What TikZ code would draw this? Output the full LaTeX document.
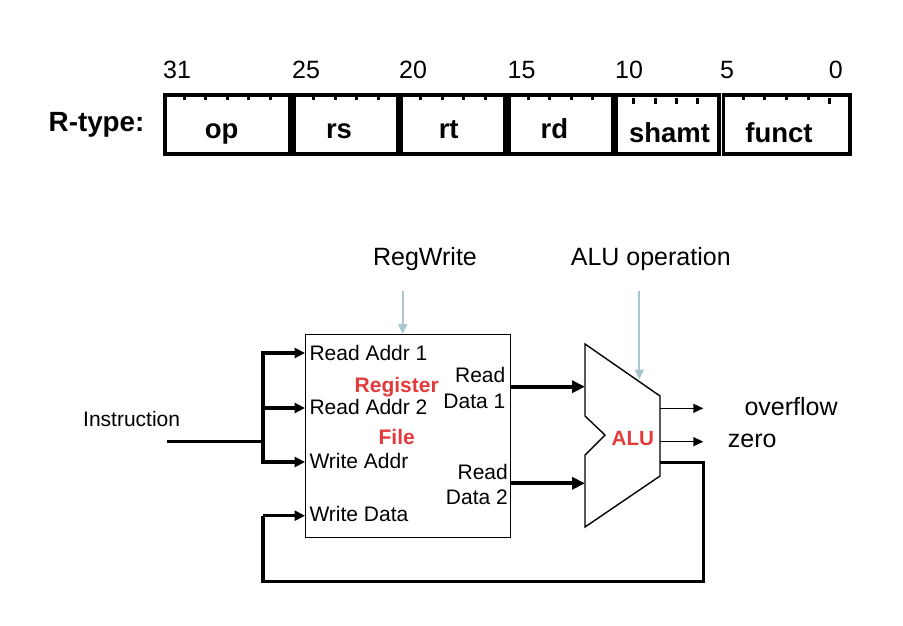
\documentclass[tikz,border=0pt]{standalone}
\usepackage{fontspec}
\setmainfont{Liberation Sans}
\usetikzlibrary{arrows.meta,calc}
\definecolor{hired}{HTML}{E23B3B}
\definecolor{ctrlblue}{HTML}{A9C6CF}
\begin{document}
\begin{tikzpicture}[x=1pt,y=-1pt,
  fieldbox/.style={draw,line width=3.5pt,minimum height=59pt,inner sep=0pt,anchor=north west},
  tickA/.style={line width=3pt},
  numtxt/.style={font=\fontsize{25}{30}\selectfont,inner sep=0pt},
  fldtxt/.style={font=\fontsize{27.5}{32}\selectfont\bfseries,inner sep=0pt,anchor=base},
  bigtxt/.style={font=\fontsize{25}{30}\selectfont,inner sep=0pt},
  smalltxt/.style={font=\fontsize{21}{25}\selectfont,inner sep=0pt},
  redtxt/.style={font=\fontsize{21}{25}\selectfont\bfseries,text=hired,inner sep=0pt,anchor=base},
  bus/.style={line width=3.4pt},
  busarrow/.style={line width=3.4pt,-{Triangle[length=10.5pt,width=10pt]}},
  dataarrow/.style={line width=4.2pt,-{Triangle[length=13pt,width=12pt]}},
  thinarrow/.style={line width=1.4pt,-{Triangle[length=10pt,width=9pt]}},
  ctrl/.style={draw=ctrlblue,line width=2pt,-{Triangle[length=10pt,width=9pt]}},
  unit/.style={draw,line width=1.4pt,fill=white}
]
\useasboundingbox[fill=white] (0,0) rectangle (903,625);

% ---------- R-type format ----------
\node[font=\fontsize{27.8}{32}\selectfont\bfseries,inner sep=0pt,anchor=base west] (rtype) at (48.5,131.5) {R-type:};

\node[fieldbox,minimum width=125pt] (fop) at (163,93) {};
\node[fieldbox,minimum width=104pt] (frs) at (292,93) {};
\node[fieldbox,minimum width=103.5pt] (frt) at (399.5,93) {};
\node[fieldbox,minimum width=103.5pt] (frd) at (507,93) {};
\node[fieldbox,minimum width=103pt] (fsh) at (614,93) {};
\node[fieldbox,minimum width=126.5pt] (ffn) at (721.5,93) {};

% ticks (attached)
\foreach \i in {1,...,5} \draw[tickA] ($(fop.north west)!\i/6!(fop.north east)$) -- ++(0,7);
\foreach \i in {1,...,4} \draw[tickA] ($(frs.north west)!\i/5!(frs.north east)$) -- ++(0,7);
\foreach \i in {1,...,4} \draw[tickA] ($(frt.north west)!\i/5!(frt.north east)$) -- ++(0,7);
\foreach \i in {1,...,4} \draw[tickA] ($(frd.north west)!\i/5!(frd.north east)$) -- ++(0,7);
\foreach \i in {1,...,4} \draw[tickA] ($(ffn.north west)!\i/6!(ffn.north east)$) -- ++(0,7);
% ticks (detached)
\foreach \i in {1,...,4} \draw[tickA] ($(fsh.north west)!\i/5!(fsh.north east)+(-1.5,5)$) -- ++(0,6);
\draw[tickA] ($(ffn.north west)!5/6!(ffn.north east)+(0,5)$) -- ++(0,6);

% bit numbers
\node[numtxt,anchor=base west] (b31) at (163,78) {31};
\node[numtxt,anchor=base west] (b25) at (292,78) {25};
\node[numtxt,anchor=base west] (b20) at (399,78) {20};
\node[numtxt,anchor=base west] (b15) at (507.5,78) {15};
\node[numtxt,anchor=base west] (b10) at (615,78) {10};
\node[numtxt,anchor=base west] (b5) at (720,78) {5};
\node[numtxt,anchor=base east] (b0) at (843,78) {0};

% field names
\node[fldtxt] (lop) at (221.7,138) {op};
\node[fldtxt] (lrs) at (339,138) {rs};
\node[fldtxt] (lrt) at (448.7,138) {rt};
\node[fldtxt] (lrd) at (554.3,138) {rd};
\node[fldtxt] (lsh) at (669.5,142) {shamt};
\node[fldtxt] (lfn) at (779,142) {funct};

% ---------- datapath ----------
\node[bigtxt,anchor=base] (regwrite) at (425,265) {RegWrite};
\node[bigtxt,anchor=base] (aluop) at (650.8,265) {ALU operation};

% register file
\node[unit,minimum width=205pt,minimum height=203pt,anchor=north west,inner sep=0pt] (rf) at (305,334) {};
\node[smalltxt,anchor=base west] (pra1) at (309.3,360.7) {Read Addr 1};
\node[smalltxt,anchor=base west] (pra2) at (309.3,414) {Read Addr 2};
\node[smalltxt,anchor=base west] (pwa) at (309.3,468) {Write Addr};
\node[smalltxt,anchor=base west] (pwd) at (309.3,521.7) {Write Data};
\node[redtxt] (lreg) at (396.7,392.7) {Register};
\node[redtxt] (lfile) at (396.7,444) {File};
\node[smalltxt,anchor=base east] (rd1a) at (505.5,382.3) {Read};
\node[smalltxt,anchor=base east] (rd1b) at (505.5,408.3) {Data 1};
\node[smalltxt,anchor=base east] (rd2a) at (508,479) {Read};
\node[smalltxt,anchor=base east] (rd2b) at (508,504) {Data 2};

% ALU
\coordinate (a1) at (585,344);
\coordinate (a2) at (660,396);
\coordinate (a3) at (660,476);
\coordinate (a4) at (585,527);
\coordinate (a5) at (585,455);
\coordinate (a6) at (605,435);
\coordinate (a7) at (585,416);
\draw[unit] (a1) -- (a2) -- (a3) -- (a4) -- (a5) -- (a6) -- (a7) -- cycle;
\node[font=\fontsize{20.6}{25}\selectfont\bfseries,text=hired,inner sep=0pt,anchor=base] (alu) at (632.8,445.7) {ALU};

% control inputs
\coordinate (rwtop) at (402.7,291);
\coordinate (aotop) at (639.3,291);
\coordinate (aoend) at (639.3,379.5);
\draw[ctrl] (rwtop) -- (rwtop |- rf.north);
\draw[ctrl] (aotop) -- (aoend);

% instruction bus
\node[smalltxt,anchor=base west] (instr) at (83,426) {Instruction};
\coordinate (iin) at (167,441.7);
\coordinate (bj) at (263,441.7);
\coordinate (btop) at (263,353);
\coordinate (bbot) at (263,462);
\draw[bus] (iin) -- (bj);
\draw[bus,line cap=rect] (btop) -- (bbot);
\draw[busarrow] (btop) -- (rf.west |- btop);
\draw[busarrow] (263,408) -- (rf.west |- 263,408);
\draw[busarrow] (bbot) -- (rf.west |- bbot);

% read data to ALU
\coordinate (rd1o) at (rf.east |- 0,386.7);
\coordinate (rd2o) at (rf.east |- 0,483.3);
\draw[dataarrow] (rd1o) -- (a1 |- rd1o);
\draw[dataarrow] (rd2o) -- (a1 |- rd2o);

% ALU outputs
\coordinate (ovo) at (660,408.3);
\coordinate (zeo) at (660,441.7);
\coordinate (ovend) at (703.3,408.3);
\coordinate (zeend) at (703.3,441.7);
\draw[thinarrow] (ovo) -- (ovend);
\draw[thinarrow] (zeo) -- (zeend);
\node[bigtxt,anchor=base west] (lov) at (744.3,415.3) {overflow};
\node[bigtxt,anchor=base west] (lze) at (727.7,447) {zero};

% feedback to write data
\coordinate (res) at (660,462.3);
\coordinate (f1) at (703.3,462.3);
\coordinate (f2) at (703.3,581.7);
\coordinate (f3) at (263,581.7);
\coordinate (f4) at (263,515.7);
\draw[bus,line join=miter] (res) -- (f1) -- (f2) -- (f3) -- (f4);
\draw[busarrow] (f4) -- (rf.west |- f4);
\end{tikzpicture}
\end{document}
